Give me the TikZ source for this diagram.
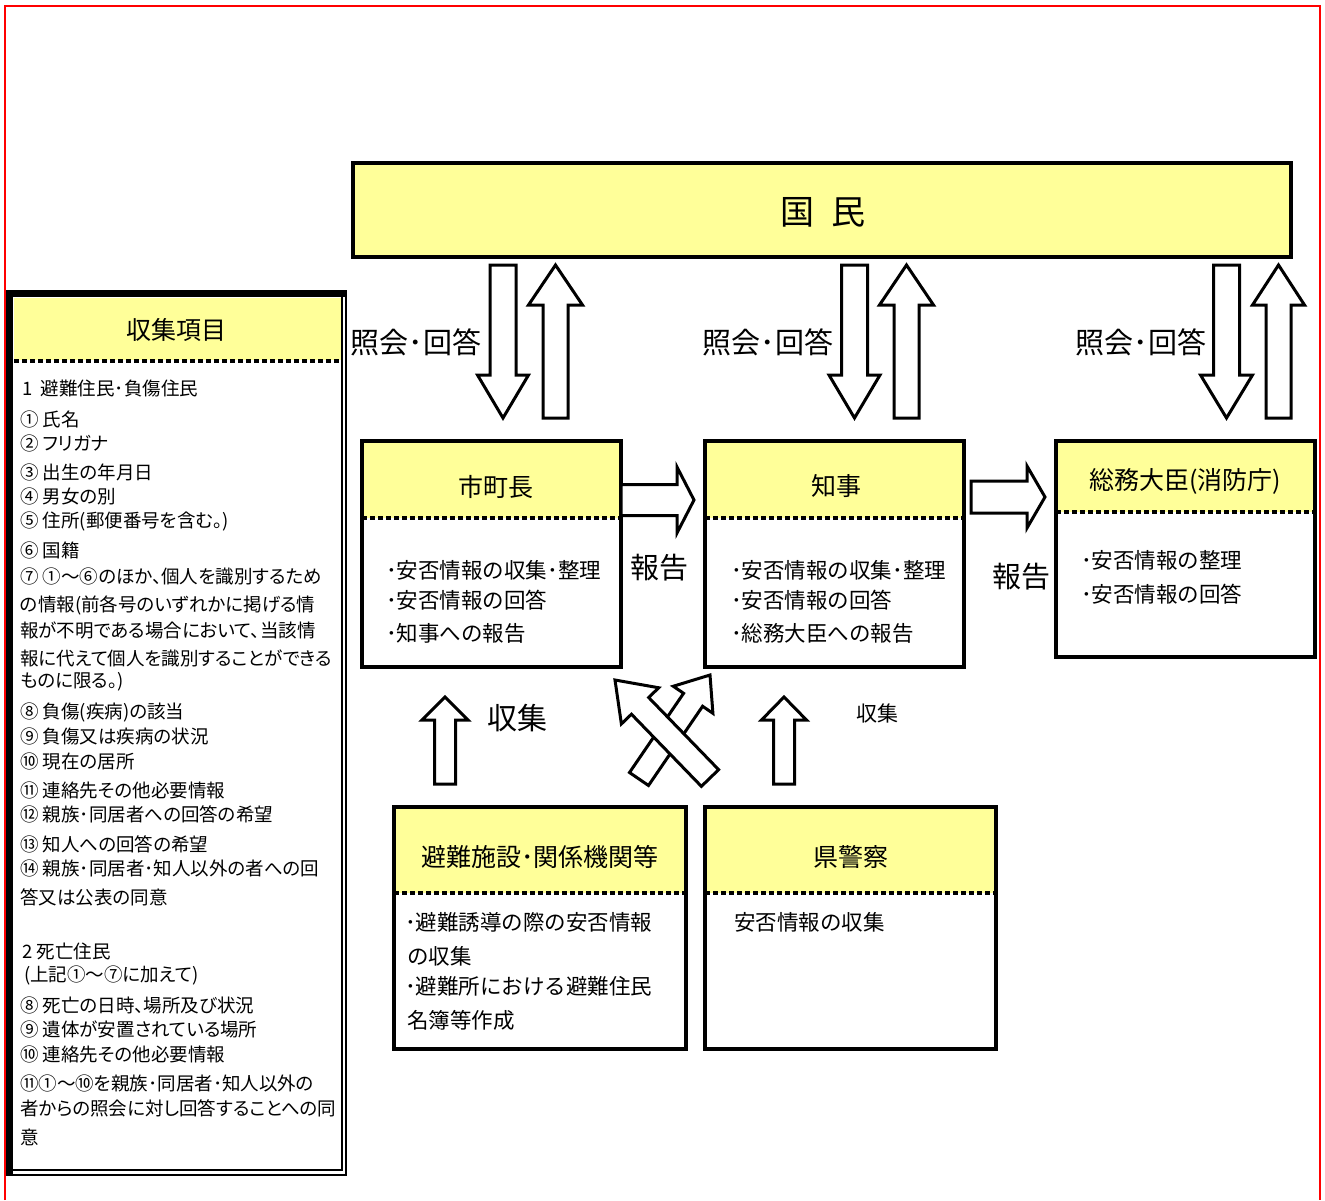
\documentclass[tikz,border=0pt]{standalone}
\usepackage{fontspec}
\setmainfont{Noto Sans CJK JP}
\newfontfamily\pfont[RawFeature=+palt]{Noto Sans CJK JP}
\usetikzlibrary{calc}
\definecolor{hdr}{HTML}{FFFF99}
\newcommand\jfs[1]{\fontsize{#1}{#1}\selectfont}
\tikzset{
  boxst/.style={draw, line width=3.5pt, fill=white, inner sep=0pt, outer sep=0pt, anchor=north west},
  sepline/.style={line width=4pt, dash pattern=on 5pt off 3pt},
  ttl/.style={font=\jfs{25}, inner sep=0pt},
  bodyt/.style={font=\jfs{21.5}, anchor=west, inner sep=0pt},
  lbl/.style={font=\jfs{29}, inner sep=0pt},
  paneltxt/.style={font=\pfont\jfs{18.5}, anchor=west, inner sep=0pt},
  barr/.style={draw, fill=white, line width=3pt, line join=miter},
}
% #1 tail, #2 tip, #3 shaft half width, #4 head half width, #5 head length
\newcommand\blockarr[5]{%
  \coordinate (ba-B) at ($(#2)!#5!(#1)$);
  \path[barr] ($(#1)!#3!90:(#2)$) -- ($(ba-B)!#3!90:(#2)$) -- ($(ba-B)!#4!90:(#2)$) -- (#2)
     -- ($(ba-B)!#4!-90:(#2)$) -- ($(ba-B)!#3!-90:(#2)$) -- ($(#1)!#3!-90:(#2)$) -- cycle;}
% #1 name, #2 x, #3 y, #4 w, #5 h, #6 header height
\newcommand\hdrbox[6]{%
  \node[boxst, minimum width=#4pt, minimum height=#5pt,
    path picture={\fill[hdr] (path picture bounding box.north west) rectangle ([yshift=-#6pt]path picture bounding box.north east);}]
    (#1) at (#2,#3) {};
  \draw[sepline] ([yshift=-#6pt]#1.north west) -- ([yshift=-#6pt]#1.north east);}
\begin{document}
\begin{tikzpicture}[x=1pt,y=-1pt]
\useasboundingbox (0,0) rectangle (1325,1200);
% red frame
\draw[red, line width=2pt] (5,1200) -- (5,6) -- (1320,6) -- (1320,1200);

% ---------- left panel ----------
\node[draw, line width=1.5pt, inner sep=0pt, outer sep=0pt, anchor=north west, minimum width=339pt, minimum height=884pt] (panel) at (7,291) {};
\fill[hdr] (14,298) rectangle (341,360);
\draw[line width=1.2pt] (12,296) rectangle (342,1170);
\draw[line width=6pt] (10,1175) -- (10,294) -- (346,294);
\draw[sepline] (14,361) -- (342,361);
\node[font=\jfs{25}, inner sep=0pt] (panel-t) at (176,330) {収集項目};
\node[paneltxt] (p1)  at (22,389)  {1\ \ 避難住民･負傷住民};
\node[paneltxt] (p2)  at (20,419)  {① 氏名};
\node[paneltxt] (p3)  at (20,443)  {② フリガナ};
\node[paneltxt] (p4)  at (20,472)  {③ 出生の年月日};
\node[paneltxt] (p5)  at (20,496)  {④ 男女の別};
\node[paneltxt] (p6)  at (20,521)  {⑤ 住所(郵便番号を含む。)};
\node[paneltxt] (p7)  at (20,550)  {⑥ 国籍};
\node[paneltxt] (p8)  at (20,576)  {⑦ ①～⑥のほか、個人を識別するため};
\node[paneltxt] (p9)  at (20,605)  {の情報(前各号のいずれかに掲げる情};
\node[paneltxt] (p10) at (20,630)  {報が不明である場合において、当該情};
\node[paneltxt] (p11) at (20,658)  {報に代えて個人を識別することができる};
\node[paneltxt] (p12) at (20,682)  {ものに限る。)};
\node[paneltxt] (p13) at (20,712)  {⑧ 負傷(疾病)の該当};
\node[paneltxt] (p14) at (20,736)  {⑨ 負傷又は疾病の状況};
\node[paneltxt] (p15) at (20,761)  {⑩ 現在の居所};
\node[paneltxt] (p16) at (20,790)  {⑪ 連絡先その他必要情報};
\node[paneltxt] (p17) at (20,814)  {⑫ 親族･同居者への回答の希望};
\node[paneltxt] (p18) at (20,844)  {⑬ 知人への回答の希望};
\node[paneltxt] (p19) at (20,868)  {⑭ 親族･同居者･知人以外の者への回};
\node[paneltxt] (p20) at (20,897)  {答又は公表の同意};
\node[paneltxt] (p21) at (22,951)  {2\ 死亡住民};
\node[paneltxt] (p22) at (24,975)  {(上記①～⑦に加えて)};
\node[paneltxt] (p23) at (20,1005) {⑧ 死亡の日時、場所及び状況};
\node[paneltxt] (p24) at (20,1029) {⑨ 遺体が安置されている場所};
\node[paneltxt] (p25) at (20,1054) {⑩ 連絡先その他必要情報};
\node[paneltxt] (p26) at (20,1083) {⑪①～⑩を親族･同居者･知人以外の};
\node[paneltxt] (p27) at (20,1108) {者からの照会に対し回答することへの同};
\node[paneltxt] (p28) at (20,1137) {意};

% ---------- boxes ----------
\node[boxst, line width=4.5pt, fill=hdr, minimum width=938pt, minimum height=94pt] (kokumin) at (353,163) {};
\node[font=\jfs{34}, inner sep=0pt] (kokumin-t) at (823,212) {国\hspace{0.5em}民};

\hdrbox{mc}{362}{441}{259}{226}{77}
\node[ttl] (mc-t) at (496,487) {市町長};
\node[bodyt] (mc-1) at (386,570) {･安否情報の収集･整理};
\node[bodyt] (mc-2) at (386,600) {･安否情報の回答};
\node[bodyt] (mc-3) at (386,633) {･知事への報告};

\hdrbox{chiji}{705}{441}{259}{226}{77}
\node[ttl] (chiji-t) at (836,486) {知事};
\node[bodyt] (chiji-1) at (731,570) {･安否情報の収集･整理};
\node[bodyt] (chiji-2) at (731,600) {･安否情報の回答};
\node[bodyt] (chiji-3) at (731,633) {･総務大臣への報告};

\hdrbox{somu}{1056}{441}{259}{216}{71}
\node[ttl] (somu-t) at (1185,481) {総務大臣(消防庁)};
\node[bodyt] (somu-1) at (1081,560) {･安否情報の整理};
\node[bodyt] (somu-2) at (1081,594) {･安否情報の回答};

\hdrbox{hinan}{394}{807}{292}{242}{86}
\node[ttl] (hinan-t) at (540,857) {避難施設･関係機関等};
\node[bodyt] (hinan-1) at (405,922) {･避難誘導の際の安否情報};
\node[bodyt] (hinan-2) at (407,956) {の収集};
\node[bodyt] (hinan-3) at (405,986) {･避難所における避難住民};
\node[bodyt] (hinan-4) at (407,1020) {名簿等作成};

\hdrbox{police}{705}{807}{291}{242}{86}
\node[ttl] (police-t) at (851,857) {県警察};
\node[bodyt] (police-1) at (734,922) {安否情報の収集};

% ---------- arrows ----------
\coordinate (a1t) at (503,265);    \coordinate (a1h) at (503,418);
\coordinate (a2t) at (555.5,418);  \coordinate (a2h) at (555.5,265);
\coordinate (a3t) at (854.5,265);  \coordinate (a3h) at (854.5,418);
\coordinate (a4t) at (906.5,418);  \coordinate (a4h) at (906.5,265);
\coordinate (a5t) at (1226.5,265); \coordinate (a5h) at (1226.5,418);
\coordinate (a6t) at (1278.5,418); \coordinate (a6h) at (1278.5,265);
\blockarr{a1t}{a1h}{13pt}{25.5pt}{43pt}
\blockarr{a2t}{a2h}{12.5pt}{27pt}{40pt}
\blockarr{a3t}{a3h}{13pt}{25.5pt}{43pt}
\blockarr{a4t}{a4h}{12.5pt}{27pt}{40pt}
\blockarr{a5t}{a5h}{13pt}{26pt}{43pt}
\blockarr{a6t}{a6h}{12.5pt}{26pt}{40pt}

\coordinate (r1t) at (mc.east |- 0,500);  \coordinate (r1h) at (694,500);
\coordinate (r2t) at (971,497); \coordinate (r2h) at (1045,497);
\blockarr{r1t}{r1h}{15.5pt}{33pt}{17pt}
\blockarr{r2t}{r2h}{16pt}{31pt}{18pt}

\coordinate (c1t) at (445,784); \coordinate (c1h) at (445,697);
\coordinate (c2t) at (784,784); \coordinate (c2h) at (784,697);
\blockarr{c1t}{c1h}{10.5pt}{23pt}{23pt}
\blockarr{c2t}{c2h}{10.5pt}{22.5pt}{23pt}

\coordinate (x1t) at (639,779); \coordinate (x1h) at (710,675);
\coordinate (x2t) at (710,778); \coordinate (x2h) at (615,680);
\blockarr{x1t}{x1h}{11.5pt}{24pt}{30pt}
\blockarr{x2t}{x2h}{12pt}{26pt}{36pt}

% ---------- labels ----------
\node[lbl] (q1) at (416,342) {照会･回答};
\node[lbl] (q2) at (768,342) {照会･回答};
\node[lbl] (q3) at (1141,342) {照会･回答};
\node[lbl] (h1) at (659,568) {報告};
\node[lbl] (h2) at (1021,577) {報告};
\node[font=\jfs{30}, inner sep=0pt] (s1) at (517,718) {収集};
\node[font=\jfs{21}, inner sep=0pt] (s2) at (877,713) {収集};
\end{tikzpicture}
\end{document}
